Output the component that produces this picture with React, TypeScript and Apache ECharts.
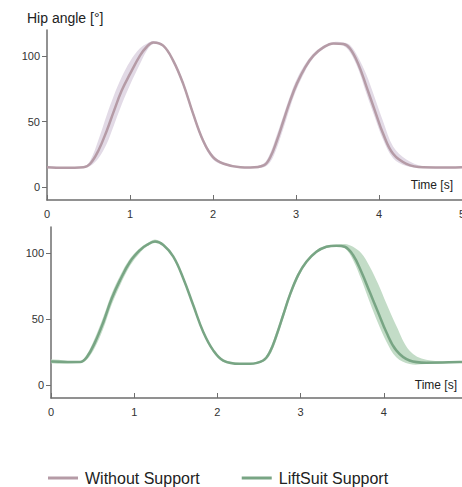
import React, { useEffect, useRef } from "react";
import * as echarts from "echarts";

// ---- Data ----
const tTop = [0, 0.2, 0.44, 0.52, 0.62, 0.72, 0.8, 0.9, 1.0, 1.12, 1.2, 1.28, 1.4, 1.52, 1.64, 1.76, 1.88, 2.0, 2.13, 2.33, 2.45, 2.61, 2.69, 2.77, 2.85, 2.93, 3.01, 3.11, 3.21, 3.33, 3.45, 3.57, 3.65, 3.75, 3.85, 3.95, 4.05, 4.17, 4.33, 4.53, 4.86, 5.0];
const meanTop = [15, 14.6, 15, 17.7, 27.9, 43, 57, 73.7, 86.4, 100.4, 107, 110.5, 108, 96.6, 79, 56, 35.5, 22.8, 17.7, 15, 14.8, 16.4, 22.7, 35.5, 50.8, 66, 79, 91.5, 100.4, 106.7, 109.7, 109.3, 105.8, 94, 76.5, 58.4, 40.6, 25.3, 17.7, 15, 14.8, 15];
const lowTop = [14.5, 14.2, 14.5, 16, 22, 33, 46, 63, 78, 94, 104, 109.3, 107, 95, 77, 54, 33.5, 21, 16.8, 14.5, 14.3, 15, 19, 30, 45, 61, 75, 88.5, 98.5, 105.5, 108.7, 108, 103, 90, 71, 53, 36, 22, 16, 14.5, 14.3, 14.6];
const highTop = [15.5, 15, 15.5, 20, 36, 55, 69, 84, 96, 106, 109.5, 111.5, 109, 98, 81, 58, 37.5, 24.5, 18.5, 15.5, 15.3, 18, 26, 40, 55, 70, 82.5, 94, 102, 108, 110.7, 110.5, 108.5, 99, 85.5, 68, 50, 31, 21, 15.8, 15.2, 15.4];

const tBot = [0, 0.35, 0.43, 0.53, 0.63, 0.73, 0.83, 0.95, 1.07, 1.15, 1.25, 1.35, 1.47, 1.59, 1.71, 1.83, 1.95, 2.07, 2.27, 2.39, 2.55, 2.63, 2.71, 2.79, 2.87, 2.97, 3.07, 3.19, 3.31, 3.43, 3.53, 3.63, 3.73, 3.83, 3.93, 4.03, 4.15, 4.31, 4.51, 4.91, 5.0];
const meanBot = [17.8, 17.3, 21, 32.5, 47.8, 65.6, 79.6, 93.6, 102.5, 106.3, 108.9, 106.3, 97.4, 80.9, 60.5, 40.2, 26.2, 18.5, 16, 16, 18.5, 24.9, 37.6, 52.9, 68.2, 83.4, 93.6, 101.2, 105, 105.8, 105, 98.7, 86, 70.7, 55.4, 40.2, 26.2, 18.5, 16.8, 17.3, 17.5];
const lowBot = [16.5, 16.6, 19, 28.5, 43, 61, 75.5, 90.5, 100.5, 105, 107.8, 105.3, 96.2, 79.5, 59, 38.8, 25, 17.6, 15.3, 15.3, 17.5, 22.5, 34.5, 50, 65.5, 81, 92, 100, 104, 105, 104, 95, 80, 63, 47, 33, 21, 15.8, 15.8, 16.6, 16.8];
const highBot = [19.2, 18, 23, 36, 52, 69.5, 83, 96, 104, 107.5, 110.5, 107.3, 98.6, 82.3, 62, 41.6, 27.4, 19.4, 16.7, 16.7, 19.5, 27, 40.5, 55.5, 70.5, 85.5, 95, 102.3, 106, 106.6, 107, 105, 100, 90, 77, 62, 45, 26, 19, 17.8, 18];

const yTicks = [0, 50, 100];
const seriesNames = ["Without Support", "LiftSuit Support"];

const FONT = "'Liberation Sans', Arial, Helvetica, sans-serif";
const AXIS_COLOR = "#6e6e6e";
const LABEL_COLOR = "#333";
const COL_WITHOUT = "#b59ba6";
const BAND_WITHOUT = "#e2dae6";
const COL_LIFT = "#78a584";
const BAND_LIFT = "#c3dcc7";

function pairs(t: number[], v: number[]) {
  return t.map((x, i) => [x, v[i]]);
}

function xAxisCfg(gridIndex: number) {
  return {
    type: "value" as const,
    gridIndex,
    min: 0,
    max: 5,
    interval: 1,
    axisLine: { show: true, onZero: false, lineStyle: { color: AXIS_COLOR, width: 1.5 } },
    axisTick: { show: true, inside: true, length: 5, lineStyle: { color: AXIS_COLOR, width: 1 } },
    axisLabel: { color: LABEL_COLOR, fontSize: 11, margin: 8, fontFamily: FONT },
    splitLine: { show: false },
  };
}
function yAxisCfg(gridIndex: number) {
  return {
    type: "value" as const,
    gridIndex,
    min: -10,
    max: 120,
    axisLine: { show: true, onZero: false, lineStyle: { color: AXIS_COLOR, width: 1.5 } },
    axisTick: { show: true, inside: false, length: 5, customValues: yTicks, lineStyle: { color: AXIS_COLOR, width: 1 } },
    axisLabel: { color: LABEL_COLOR, fontSize: 11, margin: 7, fontFamily: FONT, customValues: yTicks },
    splitLine: { show: false },
  };
}

function bandSeries(idx: number, t: number[], lo: number[], hi: number[], color: string) {
  return {
    type: "custom",
    xAxisIndex: idx,
    yAxisIndex: idx,
    coordinateSystem: "cartesian2d",
    silent: true,
    clip: true,
    z: 1,
    data: [[t[0], lo[0]]],
    renderItem: (_params: any, api: any) => {
      const pts: number[][] = [];
      for (let i = 0; i < t.length; i++) pts.push(api.coord([t[i], hi[i]]));
      for (let i = t.length - 1; i >= 0; i--) pts.push(api.coord([t[i], lo[i]]));
      return {
        type: "polygon",
        shape: { points: pts, smooth: 0.35 },
        style: { fill: color },
      };
    },
  };
}

export default function App() {
  const ref = useRef<HTMLDivElement>(null);
  useEffect(() => {
    if (!ref.current) return;
    const chart = echarts.init(ref.current, undefined, { renderer: "svg" });
    chart.setOption({
      animation: false,
      textStyle: { fontFamily: FONT },
      grid: [
        { left: 47, top: 30, width: 415, height: 170, containLabel: false, outerBoundsMode: "none" },
        { left: 51, top: 227, width: 416, height: 171, containLabel: false, outerBoundsMode: "none" },
      ],
      xAxis: [xAxisCfg(0), xAxisCfg(1)],
      yAxis: [yAxisCfg(0), yAxisCfg(1)],
      legend: {
        left: 43,
        top: 465,
        itemWidth: 30,
        itemHeight: 3,
        itemGap: 42,
        icon: "rect",
        data: seriesNames,
        textStyle: { color: "#222", fontSize: 16, fontFamily: FONT, padding: [0, 0, 0, 2] },
      },
      graphic: [
        { type: "text", left: 27, top: 11, style: { text: "Hip angle [°]", fontSize: 14, fill: "#222", fontFamily: FONT } },
        { type: "text", x: 453, y: 185, style: { text: "Time [s]", fontSize: 12, fill: "#222", fontFamily: FONT, align: "right", verticalAlign: "middle" } },
        { type: "text", x: 457, y: 385, style: { text: "Time [s]", fontSize: 12, fill: "#222", fontFamily: FONT, align: "right", verticalAlign: "middle" } },
      ],
      series: [
        bandSeries(0, tTop, lowTop, highTop, BAND_WITHOUT),
        bandSeries(1, tBot, lowBot, highBot, BAND_LIFT),
        {
          type: "line",
          name: seriesNames[0],
          xAxisIndex: 0,
          yAxisIndex: 0,
          data: pairs(tTop, meanTop),
          smooth: 0.4,
          symbol: "none",
          color: COL_WITHOUT,
          lineStyle: { color: COL_WITHOUT, width: 2.5 },
          z: 3,
        },
        {
          type: "line",
          name: seriesNames[1],
          xAxisIndex: 1,
          yAxisIndex: 1,
          data: pairs(tBot, meanBot),
          smooth: 0.4,
          symbol: "none",
          color: COL_LIFT,
          lineStyle: { color: COL_LIFT, width: 2.5 },
          z: 3,
        },
      ],
    });
    return () => chart.dispose();
  }, []);
  return (
    <div
      ref={ref}
      style={{ position: "fixed", left: 0, top: 0, width: 462, height: 487, background: "#fff" }}
    />
  );
}
